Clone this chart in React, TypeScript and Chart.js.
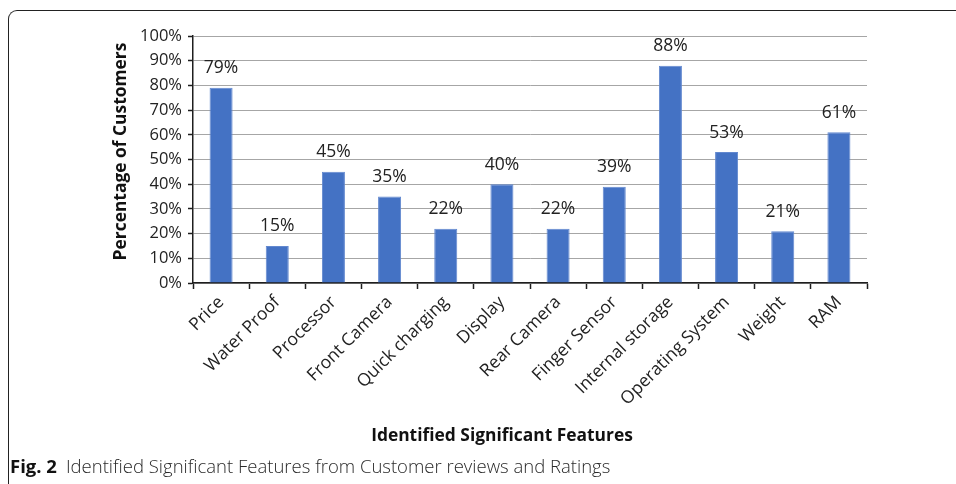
import React, { useEffect, useRef } from "react";
import { Chart, registerables } from "chart.js";

Chart.register(...registerables);

const features = [
  "Price",
  "Water Proof",
  "Processor",
  "Front Camera",
  "Quick charging",
  "Display",
  "Rear Camera",
  "Finger Sensor",
  "Internal storage",
  "Operating System",
  "Weight",
  "RAM",
];
const percentages = [79, 15, 45, 35, 22, 40, 22, 39, 88, 53, 21, 61];
const yTickStep = 10;
const yMax = 100;

const xTitle = "Identified Significant Features";
const yTitle = "Percentage of Customers";

const FONT = "'Open Sans', 'DejaVu Sans', sans-serif";
const TEXT = "#222222";

// Writes the percentage above each bar.
const valueLabels = {
  id: "valueLabels",
  afterDatasetsDraw(chart: any) {
    const { ctx } = chart;
    const meta = chart.getDatasetMeta(0);
    ctx.save();
    ctx.font = `17.5px ${FONT}`;
    ctx.fillStyle = TEXT;
    ctx.textAlign = "center";
    ctx.textBaseline = "middle";
    meta.data.forEach((bar: any, i: number) => {
      ctx.fillText(`${percentages[i]}%`, bar.x, bar.y - 19.5);
    });
    ctx.restore();
  },
};

// Axis titles, placed relative to the plot area.
const axisTitles = {
  id: "axisTitles",
  afterDraw(chart: any) {
    const { ctx, chartArea } = chart;
    ctx.save();
    ctx.font = `bold 17.4px ${FONT}`;
    ctx.fillStyle = "#111111";
    ctx.textAlign = "center";
    ctx.textBaseline = "middle";
    const cx = (chartArea.left + chartArea.right) / 2;
    const cy = (chartArea.top + chartArea.bottom) / 2;
    ctx.fillText(xTitle, cx - 28, chartArea.bottom + 153);
    ctx.translate(chartArea.left - 71.5, cy - 8);
    ctx.rotate(-Math.PI / 2);
    ctx.fillText(yTitle, 0, 0);
    ctx.restore();
  },
};

export default function App() {
  const canvasRef = useRef<HTMLCanvasElement | null>(null);

  useEffect(() => {
    const canvas = canvasRef.current;
    if (!canvas) return;
    const chart = new Chart(canvas, {
      type: "bar",
      data: {
        labels: features,
        datasets: [
          {
            data: percentages,
            backgroundColor: "#4472C4",
            borderColor: "#6288cf",
            borderWidth: { left: 1, right: 1, top: 1, bottom: 0 },
            categoryPercentage: 1,
            barPercentage: 0.41,
          },
        ],
      },
      options: {
        animation: false,
        responsive: false,
        maintainAspectRatio: false,
        layout: { padding: { top: 28, right: 81, left: 0, bottom: 0 } },
        plugins: {
          legend: { display: false },
          tooltip: { enabled: false },
          title: { display: false },
        },
        scales: {
          x: {
            offset: true,
            afterFit(scale: any) {
              scale.height = 165;
            },
            border: { color: "#1e1e1e", width: 1.5 },
            grid: {
              offset: true,
              drawOnChartArea: false,
              drawTicks: true,
              tickLength: 6,
              tickColor: "#1e1e1e",
              tickWidth: 1.5,
            },
            ticks: {
              autoSkip: false,
              maxRotation: 45,
              minRotation: 45,
              padding: 3,
              color: TEXT,
              font: { family: FONT, size: 17.5 },
            },
          },
          y: {
            min: 0,
            max: yMax,
            afterFit(scale: any) {
              scale.width = 185;
            },
            border: { color: "#1e1e1e", width: 1.5 },
            grid: {
              color: "#a6a6a6",
              lineWidth: 1,
              drawTicks: true,
              tickLength: 5,
              tickColor: "#1e1e1e",
              tickWidth: 1.5,
            },
            ticks: {
              stepSize: yTickStep,
              padding: 6,
              color: TEXT,
              font: { family: FONT, size: 16.5 },
              callback: (v: any) => `${v}%`,
            },
          },
        },
      },
      plugins: [valueLabels, axisTitles],
    });
    return () => chart.destroy();
  }, []);

  return (
    <div style={{ position: "relative", width: 940, height: 476 }}>
      <div
        style={{
          position: "fixed",
          left: 8,
          top: 10,
          width: 980,
          height: 500,
          borderTop: "1.5px solid #222",
          borderLeft: "1.5px solid #222",
          borderTopLeftRadius: 9,
          boxSizing: "border-box",
          pointerEvents: "none",
        }}
      />
      <canvas
        ref={canvasRef}
        width={940}
        height={440}
        style={{ position: "absolute", left: 0, top: 0, width: 940, height: 440 }}
      />
      <div
        style={{
          position: "absolute",
          left: 2,
          top: 446,
          height: 24,
          lineHeight: "24px",
          fontFamily: FONT,
          fontSize: 18.5,
          color: "#2a2a2a",
          whiteSpace: "nowrap",
        }}
      >
        <span style={{ fontWeight: 700, color: "#111" }}>Fig. 2</span>
        <span style={{ fontWeight: 300, marginLeft: 9 }}>
          Identified Significant Features from Customer reviews and Ratings
        </span>
      </div>
    </div>
  );
}
